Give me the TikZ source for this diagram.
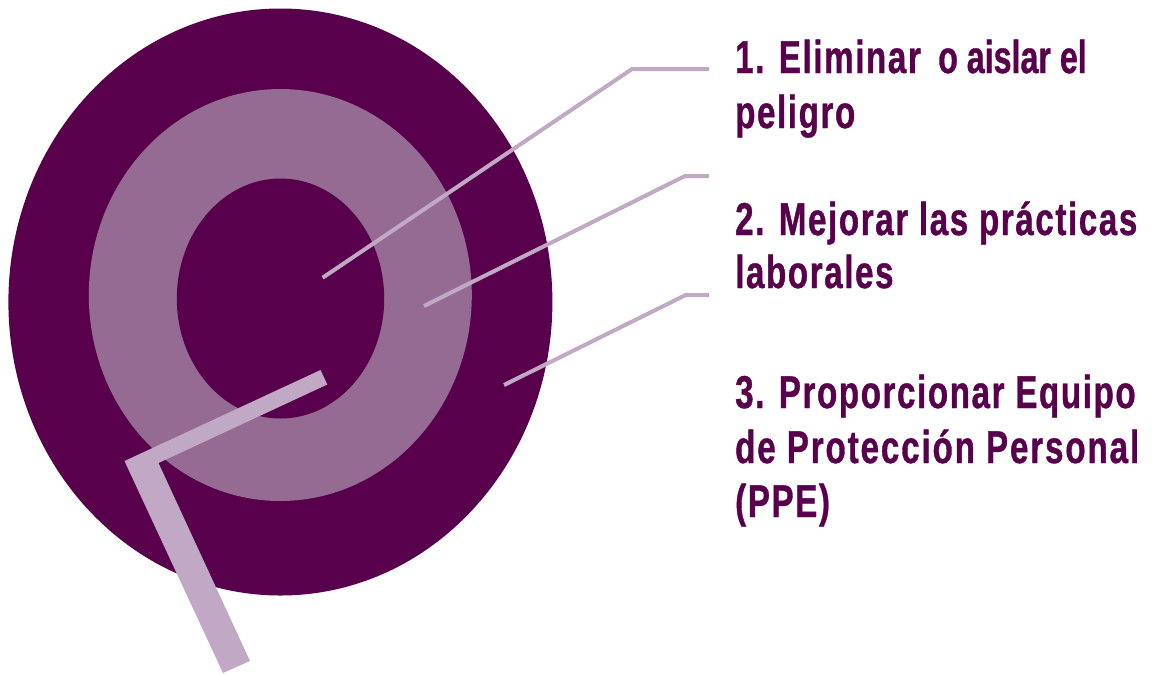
\documentclass[tikz,border=0pt]{standalone}
\usepackage{fontspec}
\newfontfamily\labA{Liberation Sans}[FakeStretch=0.72,LetterSpace=3.5,FakeBold=0.8]
\newfontfamily\labB{Liberation Sans}[FakeStretch=0.70,LetterSpace=0,FakeBold=0.8]
\newfontfamily\labC{Liberation Sans}[FakeStretch=0.72,LetterSpace=4.1,FakeBold=0.8]
\definecolor{darkp}{HTML}{58004B}
\definecolor{midp}{HTML}{956B93}
\definecolor{lightp}{HTML}{C1A9C5}
\tikzset{
  lbl/.style={anchor=base west, inner sep=0pt, text=darkp, font=\labA\bfseries\fontsize{46}{55}\selectfont},
  lead/.style={draw=lightp, line width=4pt, line cap=butt, line join=miter},
}
\begin{document}
\begin{tikzpicture}[x=1pt,y=-1pt]
\useasboundingbox (0,0) rectangle (1155,673);
% rings
\fill[darkp] (280.4,302) ellipse [x radius=272pt, y radius=293.5pt];
\fill[midp] (280.3,295) ellipse [x radius=191.5pt, y radius=206pt];
\fill[darkp] (280.5,298.5) ellipse [x radius=103.7pt, y radius=120pt];
% thick bent bar
\fill[lightp] (320.5,370) -- (124.5,461) -- (223,673) -- (250,661) -- (158.5,463) -- (327.3,384.5) -- cycle;
% leader points
\coordinate (p1) at (322.7,277.7);
\coordinate (e1) at (632,69);
\coordinate (t1) at (709,69);
\coordinate (p2) at (424,306);
\coordinate (e2) at (685,176);
\coordinate (t2) at (709,176);
\coordinate (p3) at (504,385);
\coordinate (e3) at (685.7,295);
\coordinate (t3) at (709,295);
\draw[lead] (p1) -- (e1) -- (t1);
\draw[lead] (p2) -- (e2) -- (t2);
\draw[lead] (p3) -- (e3) -- (t3);
% labels
\node[lbl] (l1a) at (735,73) {1. Eliminar};
\node[lbl, font=\labB\bfseries\fontsize{46}{55}\selectfont] (l1c) at (938,73) {o aislar el};
\node[lbl] (l1b) at (735,128) {peligro};
\node[lbl] (l2a) at (735,235) {2. Mejorar las prácticas};
\node[lbl] (l2b) at (735,288) {laborales};
\node[lbl] (l3a) at (735,408) {3. Proporcionar Equipo};
\node[lbl, font=\labC\bfseries\fontsize{46}{55}\selectfont] (l3b) at (735,463) {de Protección Personal};
\node[lbl] (l3c) at (735,517) {(PPE)};
\end{tikzpicture}
\end{document}
